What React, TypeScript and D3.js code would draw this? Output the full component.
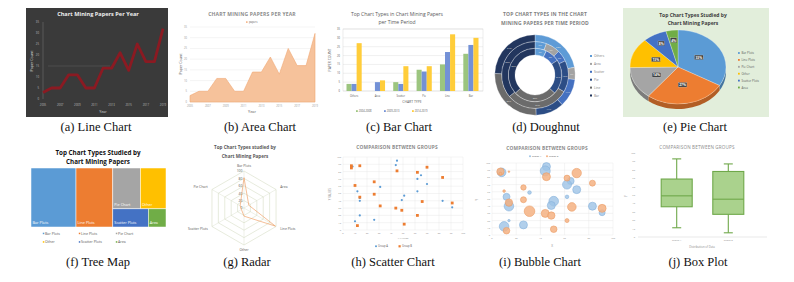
import React, { useEffect, useRef } from 'react';
import * as d3 from 'd3';

// ---- data ----
const years = [2005, 2006, 2007, 2008, 2009, 2010, 2011, 2012, 2013, 2014, 2015, 2016, 2017, 2018, 2019];
const paperCounts = [3, 5, 5, 11, 11, 5, 5, 14, 14, 21, 13, 25, 17, 17, 32];
const yearTicks = [2005, 2007, 2009, 2011, 2013, 2015, 2017, 2019];

const chartTypes = ['Others', 'Area', 'Scatter', 'Pie', 'Line', 'Bar'];
const periods = ['2004-2008', '2009-2013', '2014-2019'];
const counts0408 = [4, 0, 5, 12, 15, 21];
const counts0913 = [4, 5, 4, 11, 22, 26];
const counts1419 = [27, 6, 14, 14, 32, 30];

const studiedTypes = ['Bar Plots', 'Line Plots', 'Pie Chart', 'Other', 'Scatter Plots', 'Area'];
const studiedShares = [33, 27, 14, 13, 8, 4];

const radarAxes = ['Bar Plots', 'Area', 'Line Plots', 'Other', 'Scatter Plots', 'Pie Chart'];
const radarValues = [82, 15, 98, 22, 8, 12];
const radarTicks = [0, 20, 40, 60, 80, 100];

const groupAX = [45, 44, 65, 62, 70, 31, 12, 14, 14, 51, 49, 62, 83, 91, 14, 26, 10, 8];
const groupAY = [95, 89, 75, 70, 63, 59, 53, 44, 40, 47, 41, 53, 40, 31, 20, 14, 12, 87];
const groupASize = [4, 5, 3.5, 4.5, 4, 1.8, 3.5, 3, 4.8, 4.8, 4, 1.8, 4, 3, 1.2, 4, 4.8, 4.3];
const groupBX = [7, 7, 14, 45, 62, 70, 83, 10, 26, 14, 26, 31, 44, 49, 66, 91, 62, 51, 12];
const groupBY = [88, 85, 88, 81, 79, 86, 72, 61, 66, 45, 49, 33, 30, 27, 39, 37, 20, 8, 6];
const groupBSize = [3.7, 1.5, 0.8, 4, 3, 4.7, 3, 1.3, 2.7, 3.7, 3, 5.3, 4, 3.7, 4.3, 4, 2, 3.3, 3.3];

const boxGroups = ['Group A', 'Group B'];
const boxMin = [11, 5];
const boxQ1 = [36, 27];
const boxMedian = [49, 45];
const boxQ3 = [69, 78];
const boxMax = [93, 87];

const captions = [
  ['(a) Line Chart', 96, 131], ['(b) Area Chart', 260, 131], ['(c) Bar Chart', 399, 131],
  ['(d) Doughnut', 546, 131], ['(e) Pie Chart', 695, 131],
  ['(f) Tree Map', 98, 266], ['(g) Radar', 247, 266], ['(h) Scatter Chart', 393, 266],
  ['(i) Bubble Chart', 540, 266], ['(j) Box Plot', 698, 266],
];

const SANS = "'Open Sans', 'Liberation Sans', sans-serif";
const SERIF = "'Liberation Serif', 'Times New Roman', serif";
const officeColors = ['#5b9bd5', '#ed7d31', '#a5a5a5', '#ffc000', '#4472c4', '#70ad47'];
const donutColors = ['#5e9bd6', '#a3a3a3', '#4571c0', '#2c4d85', '#6b6b6b', '#22365e'];

const txt = (g, x, y, s, o: any = {}) =>
  g.append('text')
    .attr('x', x).attr('y', y).text(s)
    .attr('font-family', o.family || SANS)
    .attr('font-size', o.size || 4)
    .attr('font-weight', o.weight || 'normal')
    .attr('fill', o.fill || '#595959')
    .attr('text-anchor', o.anchor || 'middle')
    .attr('letter-spacing', o.ls || 0);

const vtxt = (g, x, y, s, o: any = {}) =>
  txt(g, 0, 0, s, o).attr('transform', `translate(${x},${y}) rotate(-90)`);

// (a)
function drawLine(svg) {
  const g = svg.append('g');
  g.append('rect').attr('x', 26).attr('y', 8).attr('width', 142).attr('height', 109).attr('fill', '#3a3a3a');
  txt(g, 98, 16, 'Chart Mining Papers Per Year', { size: 5.6, weight: 'bold', fill: '#eeeeee' });
  const x = d3.scaleLinear().domain(d3.extent(years) as any).range([43, 163]);
  const y = d3.scaleLinear().domain([0, 35]).range([99, 22]);
  g.append('line').attr('x1', 43).attr('x2', 43).attr('y1', 22).attr('y2', 99)
    .attr('stroke', '#8a8a8a').attr('stroke-width', 0.4);
  g.append('line').attr('x1', 48).attr('x2', 110).attr('y1', y(15)).attr('y2', y(15))
    .attr('stroke', '#6a6a6a').attr('stroke-width', 0.4);
  y.ticks(7).forEach(t => txt(g, 39, y(t) + 1, t, { size: 2.8, fill: '#bdbdbd', anchor: 'end' }));
  yearTicks.forEach(t => txt(g, x(t), 106, t, { size: 2.8, fill: '#bdbdbd' }));
  vtxt(g, 33, 61, 'Paper Count', { size: 3.6, fill: '#d9d9d9' });
  txt(g, 103, 113, 'Year', { size: 3.6, fill: '#d9d9d9' });
  const line = d3.line().x((d, i) => x(years[i])).y(d => y(d));
  g.append('path').attr('d', line(paperCounts as any)).attr('fill', 'none')
    .attr('stroke', '#8b1a22').attr('stroke-width', 2.8).attr('stroke-linejoin', 'round');
}

// (b)
function drawArea(svg) {
  const g = svg.append('g');
  txt(g, 252, 16, 'CHART MINING PAPERS PER YEAR', { size: 5, weight: 'bold', fill: '#8c8c8c', ls: 0.2 });
  g.append('rect').attr('x', 246).attr('y', 21.3).attr('width', 1.6).attr('height', 1.6).attr('fill', '#f4b183');
  txt(g, 249, 23, 'papers', { size: 2.6, anchor: 'start' });
  const x = d3.scaleLinear().domain(d3.extent(years) as any).range([190, 315]);
  const y = d3.scaleLinear().domain([0, 35]).range([102, 27]);
  y.ticks(7).forEach(t => {
    g.append('line').attr('x1', 190).attr('x2', 315).attr('y1', y(t)).attr('y2', y(t))
      .attr('stroke', '#e3e3e3').attr('stroke-width', 0.4);
    txt(g, 187, y(t) + 1, t, { size: 2.6, fill: '#9a9a9a', anchor: 'end' });
  });
  yearTicks.forEach(t => txt(g, x(t), 106.5, t, { size: 2.6, fill: '#9a9a9a' }));
  vtxt(g, 182, 64, 'Paper Count', { size: 3.6 });
  txt(g, 252, 113, 'Year', { size: 3.8 });
  const area = d3.area().x((d, i) => x(years[i])).y0(y(0)).y1(d => y(d));
  g.append('path').attr('d', area(paperCounts as any)).attr('fill', '#f6c29b')
    .attr('stroke', '#f0a873').attr('stroke-width', 0.6);
}

// (c)
function drawBars(svg) {
  const g = svg.append('g');
  txt(g, 397, 16, 'Top Chart Types in Chart Mining Papers', { size: 5 });
  txt(g, 397, 24, 'per Time Period', { size: 5 });
  const x0 = d3.scaleBand().domain(chartTypes).range([343, 482]).paddingInner(0.35).paddingOuter(0.15);
  const x1 = d3.scaleBand().domain(periods).range([0, x0.bandwidth()]);
  const y = d3.scaleLinear().domain([0, 35]).range([91, 29]);
  y.ticks(7).forEach(t => {
    g.append('line').attr('x1', 343).attr('x2', 483).attr('y1', y(t)).attr('y2', y(t))
      .attr('stroke', '#d9d9d9').attr('stroke-width', 0.4);
    txt(g, 340, y(t) + 1, t, { size: 2.6, anchor: 'end' });
  });
  g.append('rect').attr('x', 343).attr('y', 29).attr('width', 140).attr('height', 62)
    .attr('fill', 'none').attr('stroke', '#cfcfcf').attr('stroke-width', 0.4);
  const series = [counts0408, counts0913, counts1419];
  const colors = ['#9cc57f', '#7391d6', '#ffcd3a'];
  series.forEach((vals, s) => {
    g.append('g').selectAll('rect').data(vals).join('rect')
      .attr('x', (d, i) => x0(chartTypes[i]) + x1(periods[s]))
      .attr('width', x1.bandwidth())
      .attr('y', d => y(d)).attr('height', d => y(0) - y(d))
      .attr('fill', colors[s]);
  });
  chartTypes.forEach(c => txt(g, x0(c) + x0.bandwidth() / 2, 97, c, { size: 2.6 }));
  vtxt(g, 331, 60, 'PAPER COUNT', { size: 3.4 });
  txt(g, 412, 102.5, 'CHART TYPE', { size: 3.4 });
  periods.forEach((p, i) => {
    const lx = 357 + i * 28;
    g.append('rect').attr('x', lx - 1).attr('y', 110.2).attr('width', 1.8).attr('height', 1.8).attr('fill', colors[i]);
    txt(g, lx + 1.8, 112, p, { size: 2.6, anchor: 'start' });
  });
}

// (d)
function drawDonut(svg) {
  const g = svg.append('g');
  txt(g, 545, 16, 'TOP CHART TYPES IN THE CHART', { size: 5, weight: 'bold', fill: '#7f7f7f', ls: 0.15 });
  txt(g, 545, 24.5, 'MINING PAPERS PER TIME PERIOD', { size: 5, weight: 'bold', fill: '#7f7f7f', ls: 0.15 });
  const cx = 535, cy = 75;
  const rings = [counts0408, counts0913, counts1419];
  const pie = d3.pie().sort(null);
  const cg = g.append('g').attr('transform', `translate(${cx},${cy})`);
  rings.forEach((vals, r) => {
    const inner = 20 + r * 6.75;
    const arc = d3.arc().innerRadius(inner).outerRadius(inner + 6.75);
    const total = d3.sum(vals);
    const arcs = pie(vals);
    cg.append('g').selectAll('path').data(arcs).join('path')
      .attr('d', arc as any).attr('fill', (d, i) => donutColors[i])
      .attr('stroke', '#fff').attr('stroke-width', 0.3);
    arcs.forEach((d: any) => {
      if (d.value <= 0) return;
      const [px, py] = arc.centroid(d as any);
      txt(cg, px, py + 1, Math.round((d.value / total) * 100) + '%', { size: 2.4, fill: '#e8e8e8' });
    });
  });
  chartTypes.forEach((c, i) => {
    const ly = 57 + i * 7.9;
    g.append('rect').attr('x', 590).attr('y', ly - 2).attr('width', 2).attr('height', 2).attr('fill', donutColors[i]);
    txt(g, 594, ly, c, { size: 3.2, anchor: 'start', fill: '#7f7f7f' });
  });
}

// (e)
function drawPie(svg) {
  const g = svg.append('g');
  g.append('rect').attr('x', 623).attr('y', 8).attr('width', 146).attr('height', 109).attr('fill', '#e2eedb');
  txt(g, 693, 16.5, 'Top Chart Types Studied by', { size: 5, weight: 'bold', fill: '#404040' });
  txt(g, 693, 24.5, 'Chart Mining Papers', { size: 5, weight: 'bold', fill: '#404040' });
  const cx = 678, cy = 67, rx = 48, ry = 37, depth = 5;
  const arcs = d3.pie().sort(null)(studiedShares);
  const pt = (a, dy = 0) => [cx + rx * Math.sin(a), cy - ry * Math.cos(a) + dy];
  arcs.forEach((d, i) => {
    const a0 = Math.max(d.startAngle, Math.PI / 2), a1 = Math.min(d.endAngle, (3 * Math.PI) / 2);
    if (a1 <= a0) return;
    const top = d3.range(31).map(k => pt(a0 + ((a1 - a0) * k) / 30));
    const bottom = top.map(p => [p[0], p[1] + depth]).reverse();
    g.append('path').attr('d', d3.line()(top.concat(bottom) as any) + 'Z')
      .attr('fill', d3.color(officeColors[i]).darker(0.8).toString());
  });
  const arc = d3.arc().innerRadius(0).outerRadius(rx);
  g.append('g').attr('transform', `translate(${cx},${cy}) scale(1,${ry / rx})`)
    .selectAll('path').data(arcs).join('path')
    .attr('d', arc as any).attr('fill', (d, i) => officeColors[i])
    .attr('stroke', '#ffffff').attr('stroke-width', 0.3);
  arcs.forEach((d, i) => {
    const a = (d.startAngle + d.endAngle) / 2;
    const k = i >= 4 ? 0.72 : 0.5;
    const [px, py] = [cx + rx * k * Math.sin(a), cy - ry * k * Math.cos(a)];
    const s = studiedShares[i] + '%';
    const w = s.length * 2.4 + 1.6;
    g.append('rect').attr('x', px - w / 2).attr('y', py - 2.7).attr('width', w).attr('height', 4.6)
      .attr('fill', '#404040').attr('stroke', '#dddddd').attr('stroke-width', 0.25);
    txt(g, px, py + 1, s, { size: 3.3, weight: 'bold', fill: '#fff' });
  });
  studiedTypes.forEach((t, i) => {
    const ly = 54 + i * 6.9;
    g.append('rect').attr('x', 738).attr('y', ly - 1.9).attr('width', 1.8).attr('height', 1.8).attr('fill', officeColors[i]);
    txt(g, 741.5, ly, t, { size: 3, anchor: 'start' });
  });
}

// (f)
function drawTreemap(svg) {
  const g = svg.append('g');
  txt(g, 98, 155, 'Top Chart Types Studied by', { size: 6.3, weight: 'bold', fill: '#111' });
  txt(g, 98, 163.5, 'Chart Mining Papers', { size: 6.3, weight: 'bold', fill: '#111' });
  const leaf = i => ({ name: studiedTypes[i], idx: i, value: studiedShares[i] });
  const root = d3.hierarchy({
    children: [leaf(0), leaf(1), { children: [{ children: [leaf(2), leaf(3)] }, { children: [leaf(4), leaf(5)] }] }],
  } as any).sum((d: any) => d.value || 0);
  d3.treemap().tile(d3.treemapSliceDice).size([135, 59])(root);
  const tg = g.append('g').attr('transform', 'translate(31,168)');
  root.leaves().forEach((d: any) => {
    tg.append('rect').attr('x', d.x0).attr('y', d.y0).attr('width', d.x1 - d.x0).attr('height', d.y1 - d.y0)
      .attr('fill', officeColors[d.data.idx]).attr('stroke', '#fff').attr('stroke-width', 0.5);
    txt(tg, d.x0 + 1.5, d.y1 - 3, d.data.name, { size: 3.8, anchor: 'start', fill: '#fff' });
  });
  studiedTypes.forEach((t, i) => {
    const lx = [45, 81, 118][i % 3];
    const ly = i < 3 ? 234.5 : 243;
    g.append('rect').attr('x', lx - 2.2).attr('y', ly - 1.8).attr('width', 1.5).attr('height', 1.5).attr('fill', officeColors[i]);
    txt(g, lx, ly, t, { size: 3.6, anchor: 'start' });
  });
}

// (g)
function drawRadar(svg) {
  const g = svg.append('g');
  txt(g, 245, 149, 'Top Chart Types studied by', { size: 4.6, weight: 'bold' });
  txt(g, 245, 157.5, 'Chart Mining Papers', { size: 4.6, weight: 'bold' });
  const cx = 244, cy = 208;
  const r = d3.scaleLinear().domain([0, 100]).range([0, 37]);
  const ang = i => (i * 2 * Math.PI) / radarAxes.length;
  const p = (i, v) => [cx + r(v) * Math.sin(ang(i)), cy - r(v) * Math.cos(ang(i))];
  radarTicks.slice(1).forEach(t => {
    g.append('path').attr('d', d3.line()(radarAxes.map((a, i) => p(i, t)) as any) + 'Z')
      .attr('fill', 'none').attr('stroke', '#c9d3b4').attr('stroke-width', 0.45);
  });
  radarAxes.forEach((a, i) => {
    const [ex, ey] = p(i, 100);
    g.append('line').attr('x1', cx).attr('y1', cy).attr('x2', ex).attr('y2', ey)
      .attr('stroke', '#d5dcc4').attr('stroke-width', 0.4);
    const [lx, ly] = p(i, 113);
    const s = Math.sin(ang(i));
    txt(g, lx, ly + 1.3, a, { size: 3.4, anchor: Math.abs(s) < 0.1 ? 'middle' : s > 0 ? 'start' : 'end' });
  });
  radarTicks.forEach(t => txt(g, cx - 1.5, cy - r(t) + 1.3, t, { size: 3.4, anchor: 'end' }));
  g.append('path').attr('d', d3.line()(radarValues.map((v, i) => p(i, v)) as any) + 'Z')
    .attr('fill', 'none').attr('stroke', '#f0a36b').attr('stroke-width', 0.7);
}

function xyFrame(g, x, y, xt, yt, lblSize) {
  yt.forEach(t => {
    g.append('line').attr('x1', x.range()[0]).attr('x2', x.range()[1]).attr('y1', y(t)).attr('y2', y(t))
      .attr('stroke', '#e2e2e2').attr('stroke-width', 0.4);
    txt(g, x.range()[0] - 2, y(t) + 0.9, t, { size: lblSize, anchor: 'end', fill: '#8c8c8c' });
  });
  xt.forEach(t => {
    g.append('line').attr('x1', x(t)).attr('x2', x(t)).attr('y1', y.range()[0]).attr('y2', y.range()[1])
      .attr('stroke', '#e2e2e2').attr('stroke-width', 0.4);
    txt(g, x(t), y.range()[0] + 3.5, t, { size: lblSize, fill: '#8c8c8c' });
  });
}

// (h)
function drawScatter(svg) {
  const g = svg.append('g');
  txt(g, 397, 149, 'COMPARISON BETWEEN GROUPS', { size: 4.8, weight: 'bold', fill: '#8c8c8c', ls: 0.15 });
  const x = d3.scaleLinear().domain([0, 100]).range([343, 463]);
  const y = d3.scaleLinear().domain([0, 100]).range([230, 157]);
  xyFrame(g, x, y, d3.range(0, 101, 10), d3.range(0, 101, 10), 2.3);
  vtxt(g, 331, 194, 'Y VALUES', { size: 2.8, fill: '#8c8c8c' });
  txt(g, 403, 239, 'X VALUES', { size: 2.4, fill: '#8c8c8c' });
  g.append('g').selectAll('circle').data(groupAX).join('circle')
    .attr('cx', d => x(d)).attr('cy', (d, i) => y(groupAY[i])).attr('r', 1.1).attr('fill', '#5b9bd5');
  g.append('g').selectAll('rect').data(groupBX).join('rect')
    .attr('x', d => x(d) - 1.4).attr('y', (d, i) => y(groupBY[i]) - 1.4)
    .attr('width', 2.8).attr('height', 2.8).attr('fill', '#ed7d31');
  g.append('circle').attr('cx', 376).attr('cy', 246.3).attr('r', 1).attr('fill', '#5b9bd5');
  txt(g, 378, 247.3, 'Group A', { size: 2.6, anchor: 'start' });
  g.append('rect').attr('x', 398.5).attr('y', 245.2).attr('width', 2.2).attr('height', 2.2).attr('fill', '#ed7d31');
  txt(g, 402, 247.3, 'Group B', { size: 2.6, anchor: 'start' });
}

// (i)
function drawBubble(svg) {
  const g = svg.append('g');
  txt(g, 547, 150, 'COMPARISON BETWEEN GROUPS', { size: 4.8, weight: 'bold', fill: '#8c8c8c', ls: 0.15 });
  g.append('circle').attr('cx', 530).attr('cy', 156.3).attr('r', 1).attr('fill', '#9dc3e6');
  txt(g, 532, 157.3, 'Group A', { size: 2.4, anchor: 'start' });
  g.append('circle').attr('cx', 547).attr('cy', 156.3).attr('r', 1).attr('fill', '#f4b183');
  txt(g, 549, 157.3, 'Group B', { size: 2.4, anchor: 'start' });
  const x = d3.scaleLinear().domain([0, 100]).range([492, 613]);
  const y = d3.scaleLinear().domain([0, 100]).range([235, 163]);
  const r = d3.scaleLinear().domain([0, 6]).range([0, 6]);
  xyFrame(g, x, y, d3.range(0, 101, 20), d3.range(0, 101, 10), 2.3);
  vtxt(g, 478, 200, 'Y', { size: 3, fill: '#8c8c8c' });
  txt(g, 552, 247, 'X', { size: 3, fill: '#8c8c8c' });
  txt(g, 627, 197, '+', { size: 2.5, fill: '#aaaaaa' });
  g.append('g').selectAll('circle').data(groupAX).join('circle')
    .attr('cx', d => x(d)).attr('cy', (d, i) => y(groupAY[i])).attr('r', (d, i) => r(groupASize[i]))
    .attr('fill', '#9dc3e6').attr('fill-opacity', 0.8).attr('stroke', '#86b2dc').attr('stroke-width', 0.6);
  g.append('g').selectAll('circle').data(groupBX).join('circle')
    .attr('cx', d => x(d)).attr('cy', (d, i) => y(groupBY[i])).attr('r', (d, i) => r(groupBSize[i]))
    .attr('fill', '#f4b183').attr('fill-opacity', 0.85).attr('stroke', '#eb9c64').attr('stroke-width', 0.6);
}

// (j)
function drawBox(svg) {
  const g = svg.append('g');
  txt(g, 697, 149, 'COMPARISON BETWEEN GROUPS', { size: 4.6, fill: '#8c8c8c', ls: 0.15 });
  const x = d3.scaleBand().domain(boxGroups).range([638, 767]).padding(0.5);
  const y = d3.scaleLinear().domain([0, 100]).range([237, 153]);
  y.ticks(10).forEach(t => txt(g, 635, y(t) + 0.9, t, { size: 2.3, anchor: 'end', fill: '#8c8c8c' }));
  g.append('line').attr('x1', 638).attr('x2', 767).attr('y1', y(0)).attr('y2', y(0))
    .attr('stroke', '#d0d0d0').attr('stroke-width', 0.5);
  vtxt(g, 627, 196, 'Y', { size: 2.6, fill: '#8c8c8c' });
  txt(g, 702, 248, 'Distribution of Data', { size: 2.8, fill: '#8c8c8c' });
  boxGroups.forEach((grp, i) => {
    const c = x(grp) + x.bandwidth() / 2;
    const w = 31;
    txt(g, c, 241, grp, { size: 2.4, fill: '#8c8c8c' });
    const st = { stroke: '#6fa84a', sw: 1.1 };
    [[boxMin[i], boxQ1[i]], [boxQ3[i], boxMax[i]]].forEach(([a, b]) =>
      g.append('line').attr('x1', c).attr('x2', c).attr('y1', y(a)).attr('y2', y(b)).attr('stroke', st.stroke).attr('stroke-width', st.sw));
    [boxMin[i], boxMax[i]].forEach(v =>
      g.append('line').attr('x1', c - 4.5).attr('x2', c + 4.5).attr('y1', y(v)).attr('y2', y(v)).attr('stroke', st.stroke).attr('stroke-width', st.sw));
    g.append('rect').attr('x', c - w / 2).attr('y', y(boxQ3[i])).attr('width', w).attr('height', y(boxQ1[i]) - y(boxQ3[i]))
      .attr('fill', '#aad28d').attr('stroke', st.stroke).attr('stroke-width', st.sw);
    g.append('line').attr('x1', c - w / 2).attr('x2', c + w / 2).attr('y1', y(boxMedian[i])).attr('y2', y(boxMedian[i]))
      .attr('stroke', st.stroke).attr('stroke-width', st.sw);
  });
}

export default function App() {
  const ref = useRef<SVGSVGElement>(null);

  useEffect(() => {
    const svg = d3.select(ref.current);
    svg.selectAll('*').remove();
    svg.append('rect').attr('width', 794).attr('height', 282).attr('fill', '#fff');
    drawLine(svg);
    drawArea(svg);
    drawBars(svg);
    drawDonut(svg);
    drawPie(svg);
    drawTreemap(svg);
    drawRadar(svg);
    drawScatter(svg);
    drawBubble(svg);
    drawBox(svg);
    captions.forEach(([s, cx, cy]) =>
      txt(svg, cx, cy, s, { family: SERIF, size: 12.5, fill: '#111' }));
  }, []);

  return (
    <svg
      ref={ref}
      width={794}
      height={282}
      style={{ position: 'absolute', left: 0, top: 0 }}
    />
  );
}
